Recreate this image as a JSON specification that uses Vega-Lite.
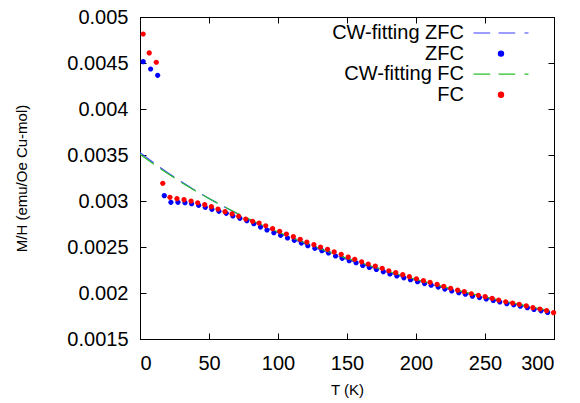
{
  "$schema": "https://vega.github.io/schema/vega-lite/v6.json",
  "width": 414,
  "height": 322,
  "autosize": {"type": "none"},
  "padding": {"left": 140, "top": 17, "right": 26, "bottom": 64},
  "background": "white",
  "config": {
    "view": {"stroke": "black", "strokeWidth": 1},
    "font": "Liberation Sans",
    "axis": {
      "grid": false,
      "domainColor": "black",
      "domainWidth": 1,
      "tickColor": "black",
      "tickSize": -6,
      "tickWidth": 1,
      "labelFont": "Liberation Sans",
      "labelFontSize": 20,
      "labelColor": "black",
      "titleFont": "Liberation Sans",
      "titleFontSize": 15,
      "titleFontWeight": "normal",
      "titleColor": "black"
    }
  },
  "datasets": {
    "zfcfit": [
      {"T": 0, "v": 0.003526, "series": "CW-fitting ZFC"},
      {"T": 10, "v": 0.003413, "series": "CW-fitting ZFC"},
      {"T": 20, "v": 0.003307, "series": "CW-fitting ZFC"},
      {"T": 30, "v": 0.003208, "series": "CW-fitting ZFC"},
      {"T": 40, "v": 0.003115, "series": "CW-fitting ZFC"},
      {"T": 50, "v": 0.003027, "series": "CW-fitting ZFC"},
      {"T": 60, "v": 0.002944, "series": "CW-fitting ZFC"},
      {"T": 70, "v": 0.002866, "series": "CW-fitting ZFC"},
      {"T": 80, "v": 0.002792, "series": "CW-fitting ZFC"},
      {"T": 90, "v": 0.002721, "series": "CW-fitting ZFC"},
      {"T": 100, "v": 0.002655, "series": "CW-fitting ZFC"},
      {"T": 110, "v": 0.002591, "series": "CW-fitting ZFC"},
      {"T": 120, "v": 0.002531, "series": "CW-fitting ZFC"},
      {"T": 130, "v": 0.002473, "series": "CW-fitting ZFC"},
      {"T": 140, "v": 0.002418, "series": "CW-fitting ZFC"},
      {"T": 150, "v": 0.002366, "series": "CW-fitting ZFC"},
      {"T": 160, "v": 0.002316, "series": "CW-fitting ZFC"},
      {"T": 170, "v": 0.002268, "series": "CW-fitting ZFC"},
      {"T": 180, "v": 0.002222, "series": "CW-fitting ZFC"},
      {"T": 190, "v": 0.002178, "series": "CW-fitting ZFC"},
      {"T": 200, "v": 0.002136, "series": "CW-fitting ZFC"},
      {"T": 210, "v": 0.002095, "series": "CW-fitting ZFC"},
      {"T": 220, "v": 0.002056, "series": "CW-fitting ZFC"},
      {"T": 230, "v": 0.002018, "series": "CW-fitting ZFC"},
      {"T": 240, "v": 0.001982, "series": "CW-fitting ZFC"},
      {"T": 250, "v": 0.001947, "series": "CW-fitting ZFC"},
      {"T": 260, "v": 0.001914, "series": "CW-fitting ZFC"},
      {"T": 270, "v": 0.001881, "series": "CW-fitting ZFC"},
      {"T": 280, "v": 0.00185, "series": "CW-fitting ZFC"},
      {"T": 290, "v": 0.00182, "series": "CW-fitting ZFC"},
      {"T": 300, "v": 0.001791, "series": "CW-fitting ZFC"}
    ],
    "fcfit": [
      {"T": 0, "v": 0.003507, "series": "CW-fitting FC"},
      {"T": 10, "v": 0.003399, "series": "CW-fitting FC"},
      {"T": 20, "v": 0.003298, "series": "CW-fitting FC"},
      {"T": 30, "v": 0.003202, "series": "CW-fitting FC"},
      {"T": 40, "v": 0.003112, "series": "CW-fitting FC"},
      {"T": 50, "v": 0.003027, "series": "CW-fitting FC"},
      {"T": 60, "v": 0.002946, "series": "CW-fitting FC"},
      {"T": 70, "v": 0.00287, "series": "CW-fitting FC"},
      {"T": 80, "v": 0.002797, "series": "CW-fitting FC"},
      {"T": 90, "v": 0.002728, "series": "CW-fitting FC"},
      {"T": 100, "v": 0.002663, "series": "CW-fitting FC"},
      {"T": 110, "v": 0.0026, "series": "CW-fitting FC"},
      {"T": 120, "v": 0.002541, "series": "CW-fitting FC"},
      {"T": 130, "v": 0.002484, "series": "CW-fitting FC"},
      {"T": 140, "v": 0.002429, "series": "CW-fitting FC"},
      {"T": 150, "v": 0.002377, "series": "CW-fitting FC"},
      {"T": 160, "v": 0.002327, "series": "CW-fitting FC"},
      {"T": 170, "v": 0.00228, "series": "CW-fitting FC"},
      {"T": 180, "v": 0.002234, "series": "CW-fitting FC"},
      {"T": 190, "v": 0.00219, "series": "CW-fitting FC"},
      {"T": 200, "v": 0.002147, "series": "CW-fitting FC"},
      {"T": 210, "v": 0.002107, "series": "CW-fitting FC"},
      {"T": 220, "v": 0.002067, "series": "CW-fitting FC"},
      {"T": 230, "v": 0.00203, "series": "CW-fitting FC"},
      {"T": 240, "v": 0.001993, "series": "CW-fitting FC"},
      {"T": 250, "v": 0.001958, "series": "CW-fitting FC"},
      {"T": 260, "v": 0.001924, "series": "CW-fitting FC"},
      {"T": 270, "v": 0.001892, "series": "CW-fitting FC"},
      {"T": 280, "v": 0.00186, "series": "CW-fitting FC"},
      {"T": 290, "v": 0.001829, "series": "CW-fitting FC"},
      {"T": 300, "v": 0.0018, "series": "CW-fitting FC"}
    ],
    "zfc": [
      {"T": 2.3, "v": 0.004514, "series": "ZFC"},
      {"T": 7.7, "v": 0.004435, "series": "ZFC"},
      {"T": 12.8, "v": 0.004366, "series": "ZFC"},
      {"T": 17.6, "v": 0.003058, "series": "ZFC"},
      {"T": 22.4, "v": 0.002986, "series": "ZFC"},
      {"T": 27.5, "v": 0.002986, "series": "ZFC"},
      {"T": 32.6, "v": 0.002982, "series": "ZFC"},
      {"T": 37.4, "v": 0.00297, "series": "ZFC"},
      {"T": 42.5, "v": 0.002953, "series": "ZFC"},
      {"T": 47.3, "v": 0.002931, "series": "ZFC"},
      {"T": 52.1, "v": 0.00291, "series": "ZFC"},
      {"T": 57.2, "v": 0.002888, "series": "ZFC"},
      {"T": 62.5, "v": 0.002866, "series": "ZFC"},
      {"T": 67.3, "v": 0.002837, "series": "ZFC"},
      {"T": 72.4, "v": 0.002812, "series": "ZFC"},
      {"T": 77.4, "v": 0.002786, "series": "ZFC"},
      {"T": 82.5, "v": 0.002753, "series": "ZFC"},
      {"T": 87.3, "v": 0.002717, "series": "ZFC"},
      {"T": 92.0, "v": 0.002685, "series": "ZFC"},
      {"T": 97.0, "v": 0.002655, "series": "ZFC"},
      {"T": 101.9, "v": 0.002627, "series": "ZFC"},
      {"T": 106.9, "v": 0.002598, "series": "ZFC"},
      {"T": 111.8, "v": 0.002573, "series": "ZFC"},
      {"T": 116.9, "v": 0.002543, "series": "ZFC"},
      {"T": 121.6, "v": 0.002514, "series": "ZFC"},
      {"T": 126.7, "v": 0.002486, "series": "ZFC"},
      {"T": 131.8, "v": 0.00246, "series": "ZFC"},
      {"T": 136.6, "v": 0.002435, "series": "ZFC"},
      {"T": 141.7, "v": 0.002402, "series": "ZFC"},
      {"T": 146.5, "v": 0.002377, "series": "ZFC"},
      {"T": 151.6, "v": 0.002351, "series": "ZFC"},
      {"T": 156.6, "v": 0.002329, "series": "ZFC"},
      {"T": 161.4, "v": 0.0023, "series": "ZFC"},
      {"T": 166.2, "v": 0.002278, "series": "ZFC"},
      {"T": 171.3, "v": 0.002256, "series": "ZFC"},
      {"T": 176.3, "v": 0.002232, "series": "ZFC"},
      {"T": 181.1, "v": 0.002207, "series": "ZFC"},
      {"T": 186.1, "v": 0.002186, "series": "ZFC"},
      {"T": 191.2, "v": 0.002165, "series": "ZFC"},
      {"T": 196.0, "v": 0.002144, "series": "ZFC"},
      {"T": 201.1, "v": 0.002123, "series": "ZFC"},
      {"T": 206.2, "v": 0.002102, "series": "ZFC"},
      {"T": 211.0, "v": 0.002085, "series": "ZFC"},
      {"T": 216.1, "v": 0.002064, "series": "ZFC"},
      {"T": 220.9, "v": 0.002043, "series": "ZFC"},
      {"T": 225.9, "v": 0.002022, "series": "ZFC"},
      {"T": 231.0, "v": 0.002003, "series": "ZFC"},
      {"T": 235.8, "v": 0.001987, "series": "ZFC"},
      {"T": 240.9, "v": 0.001966, "series": "ZFC"},
      {"T": 246.0, "v": 0.00195, "series": "ZFC"},
      {"T": 250.9, "v": 0.001936, "series": "ZFC"},
      {"T": 256.0, "v": 0.001919, "series": "ZFC"},
      {"T": 260.7, "v": 0.001902, "series": "ZFC"},
      {"T": 265.8, "v": 0.001884, "series": "ZFC"},
      {"T": 270.8, "v": 0.001871, "series": "ZFC"},
      {"T": 275.6, "v": 0.001857, "series": "ZFC"},
      {"T": 280.7, "v": 0.00184, "series": "ZFC"},
      {"T": 285.5, "v": 0.001822, "series": "ZFC"},
      {"T": 290.6, "v": 0.001806, "series": "ZFC"},
      {"T": 295.4, "v": 0.001789, "series": "ZFC"}
    ],
    "fc": [
      {"T": 2.3, "v": 0.004815, "series": "FC"},
      {"T": 6.7, "v": 0.004609, "series": "FC"},
      {"T": 11.8, "v": 0.004508, "series": "FC"},
      {"T": 16.5, "v": 0.003192, "series": "FC"},
      {"T": 21.7, "v": 0.00304, "series": "FC"},
      {"T": 26.8, "v": 0.003025, "series": "FC"},
      {"T": 31.9, "v": 0.003014, "series": "FC"},
      {"T": 37.0, "v": 0.003, "series": "FC"},
      {"T": 41.8, "v": 0.002981, "series": "FC"},
      {"T": 46.9, "v": 0.00296, "series": "FC"},
      {"T": 51.7, "v": 0.002938, "series": "FC"},
      {"T": 56.5, "v": 0.002913, "series": "FC"},
      {"T": 61.6, "v": 0.002884, "series": "FC"},
      {"T": 66.7, "v": 0.002859, "series": "FC"},
      {"T": 71.5, "v": 0.002834, "series": "FC"},
      {"T": 76.6, "v": 0.002804, "series": "FC"},
      {"T": 81.6, "v": 0.002779, "series": "FC"},
      {"T": 86.3, "v": 0.00276, "series": "FC"},
      {"T": 91.1, "v": 0.002731, "series": "FC"},
      {"T": 96.1, "v": 0.002699, "series": "FC"},
      {"T": 101.2, "v": 0.00267, "series": "FC"},
      {"T": 106.1, "v": 0.002641, "series": "FC"},
      {"T": 111.1, "v": 0.002612, "series": "FC"},
      {"T": 116.1, "v": 0.002584, "series": "FC"},
      {"T": 120.9, "v": 0.002554, "series": "FC"},
      {"T": 126.0, "v": 0.002525, "series": "FC"},
      {"T": 130.8, "v": 0.0025, "series": "FC"},
      {"T": 135.9, "v": 0.002475, "series": "FC"},
      {"T": 140.7, "v": 0.002446, "series": "FC"},
      {"T": 145.8, "v": 0.00242, "series": "FC"},
      {"T": 150.9, "v": 0.002391, "series": "FC"},
      {"T": 155.6, "v": 0.002366, "series": "FC"},
      {"T": 160.6, "v": 0.002339, "series": "FC"},
      {"T": 165.4, "v": 0.002315, "series": "FC"},
      {"T": 170.5, "v": 0.002293, "series": "FC"},
      {"T": 175.5, "v": 0.002268, "series": "FC"},
      {"T": 180.3, "v": 0.002242, "series": "FC"},
      {"T": 185.3, "v": 0.002221, "series": "FC"},
      {"T": 190.4, "v": 0.002199, "series": "FC"},
      {"T": 195.2, "v": 0.002177, "series": "FC"},
      {"T": 200.3, "v": 0.002155, "series": "FC"},
      {"T": 205.4, "v": 0.002134, "series": "FC"},
      {"T": 210.2, "v": 0.002116, "series": "FC"},
      {"T": 215.3, "v": 0.002094, "series": "FC"},
      {"T": 220.1, "v": 0.002073, "series": "FC"},
      {"T": 225.1, "v": 0.002051, "series": "FC"},
      {"T": 230.2, "v": 0.002031, "series": "FC"},
      {"T": 235.0, "v": 0.002014, "series": "FC"},
      {"T": 240.1, "v": 0.001992, "series": "FC"},
      {"T": 245.2, "v": 0.001975, "series": "FC"},
      {"T": 250.1, "v": 0.00196, "series": "FC"},
      {"T": 255.2, "v": 0.001942, "series": "FC"},
      {"T": 259.9, "v": 0.001924, "series": "FC"},
      {"T": 265.0, "v": 0.001905, "series": "FC"},
      {"T": 270.0, "v": 0.001891, "series": "FC"},
      {"T": 274.8, "v": 0.001877, "series": "FC"},
      {"T": 279.9, "v": 0.001859, "series": "FC"},
      {"T": 284.7, "v": 0.00184, "series": "FC"},
      {"T": 289.8, "v": 0.001826, "series": "FC"},
      {"T": 294.6, "v": 0.001808, "series": "FC"},
      {"T": 299.7, "v": 0.001786, "series": "FC"}
    ]
  },
  "resolve": {"axis": {"x": "independent", "y": "independent"}},
  "layer": [
    {
      "data": {"name": "zfcfit"},
      "mark": {"type": "line", "strokeWidth": 1.2, "strokeDash": [17, 8], "clip": true},
      "encoding": {
        "x": {"field": "T", "type": "quantitative", "scale": {"domain": [0, 300], "nice": false},
              "axis": {"orient": "bottom", "values": [0, 50, 100, 150, 200, 250, 300], "labelPadding": 20, "title": "T (K)", "titlePadding": 9}},
        "y": {"field": "v", "type": "quantitative", "scale": {"domain": [0.0015, 0.005], "nice": false, "zero": false},
              "axis": {"orient": "left", "values": [0.0015, 0.002, 0.0025, 0.003, 0.0035, 0.004, 0.0045, 0.005], "format": "~g", "labelPadding": 18, "title": "M/H (emu/Oe Cu-mol)", "titlePadding": 37}},
        "color": {"field": "series", "type": "nominal",
                  "scale": {"domain": ["CW-fitting ZFC", "ZFC", "CW-fitting FC", "FC"], "range": ["#3c3cff", "#0000ff", "#28c028", "#ff0000"]},
                  "legend": {
                    "orient": "none", "legendX": 351, "legendY": 6, "direction": "vertical",
                    "title": null, "symbolSize": 100, "labelFontSize": 20, "labelFont": "Liberation Sans",
                    "labelColor": "black", "labelAlign": "right", "labelOffset": -47,
                    "symbolStrokeWidth": 1.2, "rowPadding": 0.6, "padding": 0,
                    "encode": {"symbols": {"update": {"stroke": {"scale": "color", "field": "value"}, "strokeWidth": {"value": 1.2}}}}
                  }}
      }
    },
    {
      "data": {"name": "zfc"},
      "mark": {"type": "point", "filled": true, "opacity": 1, "size": 100},
      "encoding": {
        "x": {"field": "T", "type": "quantitative", "axis": {"orient": "top", "values": [0, 50, 100, 150, 200, 250, 300], "labels": false, "title": null}},
        "y": {"field": "v", "type": "quantitative", "axis": {"orient": "right", "values": [0.0015, 0.002, 0.0025, 0.003, 0.0035, 0.004, 0.0045, 0.005], "labels": false, "title": null}},
        "color": {"field": "series", "type": "nominal"},
        "shape": {"field": "series", "type": "nominal",
                  "scale": {"domain": ["CW-fitting ZFC", "ZFC", "CW-fitting FC", "FC"],
                            "range": ["M-5.5,0H-2.16M-0.5,0H2.84M4.7,0H5.5", "M-0.52,0A0.52,0.52,0,1,0,0.52,0A0.52,0.52,0,1,0,-0.52,0Z", "M-5.5,0H-2.16M-0.5,0H2.84M4.7,0H5.5", "M-0.52,0A0.52,0.52,0,1,0,0.52,0A0.52,0.52,0,1,0,-0.52,0Z"]}}
      }
    },
    {
      "data": {"name": "fcfit"},
      "mark": {"type": "line", "strokeWidth": 1.2, "strokeDash": [17, 8], "clip": true},
      "encoding": {
        "x": {"field": "T", "type": "quantitative", "axis": null},
        "y": {"field": "v", "type": "quantitative", "axis": null},
        "color": {"field": "series", "type": "nominal"}
      }
    },
    {
      "data": {"name": "fc"},
      "mark": {"type": "point", "filled": true, "opacity": 1, "size": 100},
      "encoding": {
        "x": {"field": "T", "type": "quantitative", "axis": null},
        "y": {"field": "v", "type": "quantitative", "axis": null},
        "color": {"field": "series", "type": "nominal"},
        "shape": {"field": "series", "type": "nominal"}
      }
    }
  ]
}
